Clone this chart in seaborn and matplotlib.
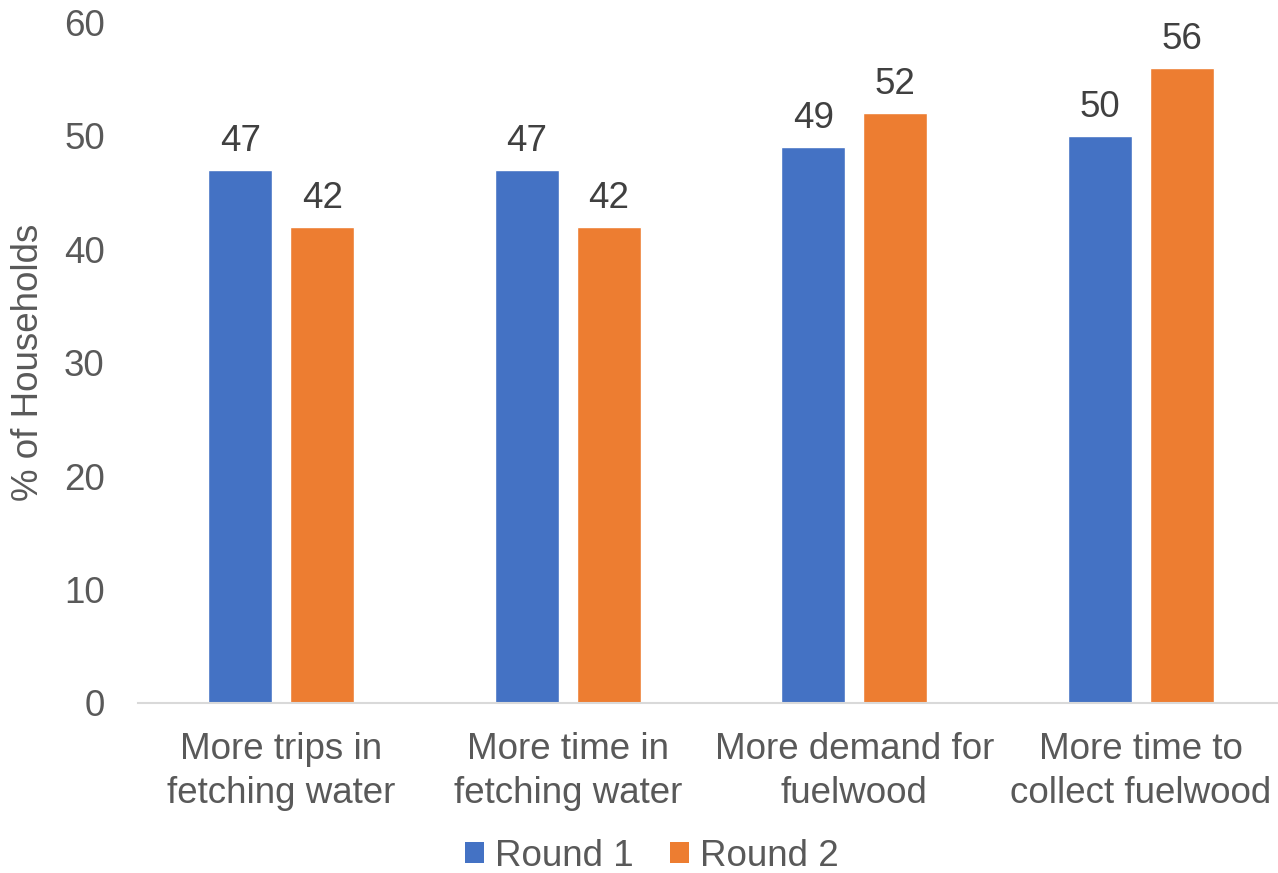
import matplotlib
matplotlib.use("Agg")
import matplotlib.pyplot as plt
from matplotlib.patches import Patch
import seaborn as sns
import pandas as pd

categories = [
    "More trips in\nfetching water",
    "More time in\nfetching water",
    "More demand for\nfuelwood",
    "More time to\ncollect fuelwood",
]
series_names = ["Round 1", "Round 2"]
round1 = [47, 47, 49, 50]
round2 = [42, 42, 52, 56]
y_ticks = [0, 10, 20, 30, 40, 50, 60]
colors = ["#4472C4", "#ED7D31"]

df = pd.DataFrame({
    "category": categories * 2,
    "round": [series_names[0]] * 4 + [series_names[1]] * 4,
    "value": round1 + round2,
})

sns.set_theme(style="white")
plt.rcParams["font.family"] = ["Liberation Sans", "DejaVu Sans"]

FS = 26.5
W, H = 1278, 873
fig = plt.figure(figsize=(W / 100, H / 100), dpi=100)
ax = fig.add_axes([138 / W, 1 - 703 / H, 1146 / W, (703 - 22.5) / H])

sns.barplot(data=df, x="category", y="value", hue="round", order=categories,
            hue_order=series_names, palette=colors, width=0.572, gap=0.22,
            saturation=1, legend=False, ax=ax)

for cont in ax.containers:
    ax.bar_label(cont, fmt="%d", padding=8, fontsize=FS, color="#404040")

ax.set_xlim(-0.5, 3.5)
ax.set_ylim(0, 60)
ax.set_yticks(y_ticks)
ax.set_yticklabels([str(t) for t in y_ticks])
ax.tick_params(axis="y", length=0, pad=24, labelsize=FS, labelcolor="#595959")
ax.tick_params(axis="x", length=0, pad=21, labelsize=FS, labelcolor="#595959")
for lab in ax.get_xticklabels():
    lab.set_linespacing(1.32)
ax.set_xlabel("")
ax.set_ylabel("% of Households", fontsize=FS, color="#595959", labelpad=13)

for s in ["top", "right", "left"]:
    ax.spines[s].set_visible(False)
ax.spines["bottom"].set_color("#D9D9D9")
ax.spines["bottom"].set_linewidth(1.5)

handles = [Patch(facecolor=c, edgecolor="none", label=n) for c, n in zip(colors, series_names)]
fig.legend(handles=handles, loc="center", bbox_to_anchor=(652 / W, 1 - 856 / H),
           ncol=2, frameon=False, fontsize=FS, labelcolor="#595959",
           handlelength=0.5, handleheight=0.5, handletextpad=0.3,
           columnspacing=1.0, borderaxespad=0, borderpad=0)

fig.savefig("out.png", dpi=100)
